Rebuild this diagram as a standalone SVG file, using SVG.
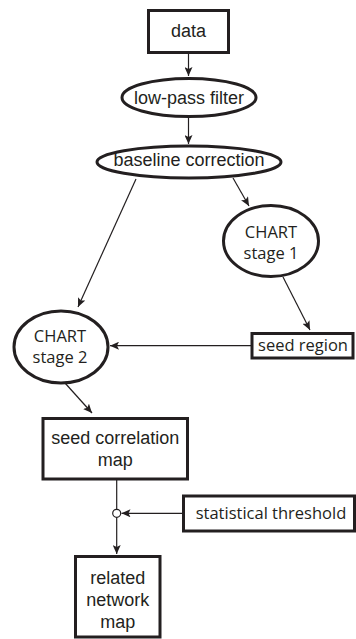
<svg xmlns="http://www.w3.org/2000/svg" width="356" height="639" viewBox="0 0 356 639">
<style>
.box{fill:#fff;stroke:#231f20;stroke-width:3}
.ell{fill:#fff;stroke:#231f20;stroke-width:3}
.h{font-family:"Liberation Sans",Arial,sans-serif;font-size:18px;fill:#231f20;text-anchor:middle}
.m{font-family:"Open Sans","Noto Sans",sans-serif;font-size:16.5px;fill:#231f20;text-anchor:middle}
.c{stroke:#231f20;stroke-width:1.2;fill:none}
</style>
<defs>
<marker id="ah" markerUnits="userSpaceOnUse" markerWidth="9" markerHeight="8" viewBox="0 0 9 8" refX="9" refY="4" orient="auto">
<path d="M0,0 L9,4 L0,8 L2,4 z" fill="#231f20"/>
</marker>
</defs>
<g id="connectors">
<line class="c" x1="188.5" y1="53" x2="188.5" y2="76" marker-end="url(#ah)"/>
<line class="c" x1="188.5" y1="117" x2="188.5" y2="144" marker-end="url(#ah)"/>
<line class="c" x1="233" y1="178" x2="249" y2="206" marker-end="url(#ah)"/>
<line class="c" x1="136" y1="179" x2="78" y2="307" marker-end="url(#ah)"/>
<line class="c" x1="283" y1="277" x2="310" y2="330" marker-end="url(#ah)"/>
<line class="c" x1="251" y1="345.7" x2="110" y2="345.7" marker-end="url(#ah)"/>
<line class="c" x1="65" y1="383" x2="92" y2="413" marker-end="url(#ah)"/>
<line class="c" x1="116.7" y1="480" x2="116.7" y2="509.3"/>
<line class="c" x1="116.7" y1="517.3" x2="116.7" y2="554" marker-end="url(#ah)"/>
<line class="c" x1="183" y1="513.3" x2="121.5" y2="513.3" marker-end="url(#ah)"/>
<circle cx="116.7" cy="513.3" r="4" fill="#fff" stroke="#231f20" stroke-width="1.2"/>
</g>
<g id="data">
<rect class="box" x="148.5" y="10.5" width="80" height="42"/>
<text class="h" x="188.5" y="37">data</text>
</g>
<g id="lowpass">
<ellipse class="ell" cx="189" cy="97.5" rx="67" ry="19"/>
<text class="h" x="189" y="104">low-pass filter</text>
</g>
<g id="baseline">
<ellipse class="ell" cx="189" cy="162" rx="92" ry="16"/>
<text class="h" x="189" y="166">baseline correction</text>
</g>
<g id="chart1">
<ellipse class="ell" cx="271" cy="241" rx="47.5" ry="35.5"/>
<text class="m" x="271" y="237.5">CHART</text>
<text class="m" x="271" y="258.5">stage 1</text>
</g>
<g id="chart2">
<ellipse class="ell" cx="61" cy="347" rx="47" ry="36"/>
<text class="m" x="60" y="341.5">CHART</text>
<text class="m" x="60" y="363">stage 2</text>
</g>
<g id="seedregion">
<rect class="box" x="252" y="333.5" width="101" height="24.5"/>
<text class="m" x="303" y="350.5">seed region</text>
</g>
<g id="seedcorr">
<rect class="box" x="43" y="418.5" width="144.5" height="60.5"/>
<text class="h" x="115.2" y="443.5">seed correlation</text>
<text class="h" x="115.2" y="465.5">map</text>
</g>
<g id="threshold">
<rect class="box" x="183.5" y="496" width="171" height="35"/>
<text class="m" x="271" y="518.5">statistical threshold</text>
</g>
<g id="related">
<rect class="box" x="75.5" y="556.5" width="84.5" height="80.5"/>
<text class="h" x="117.7" y="583.5">related</text>
<text class="h" x="117.7" y="605.5">network</text>
<text class="h" x="117.7" y="627.5">map</text>
</g>
</svg>
